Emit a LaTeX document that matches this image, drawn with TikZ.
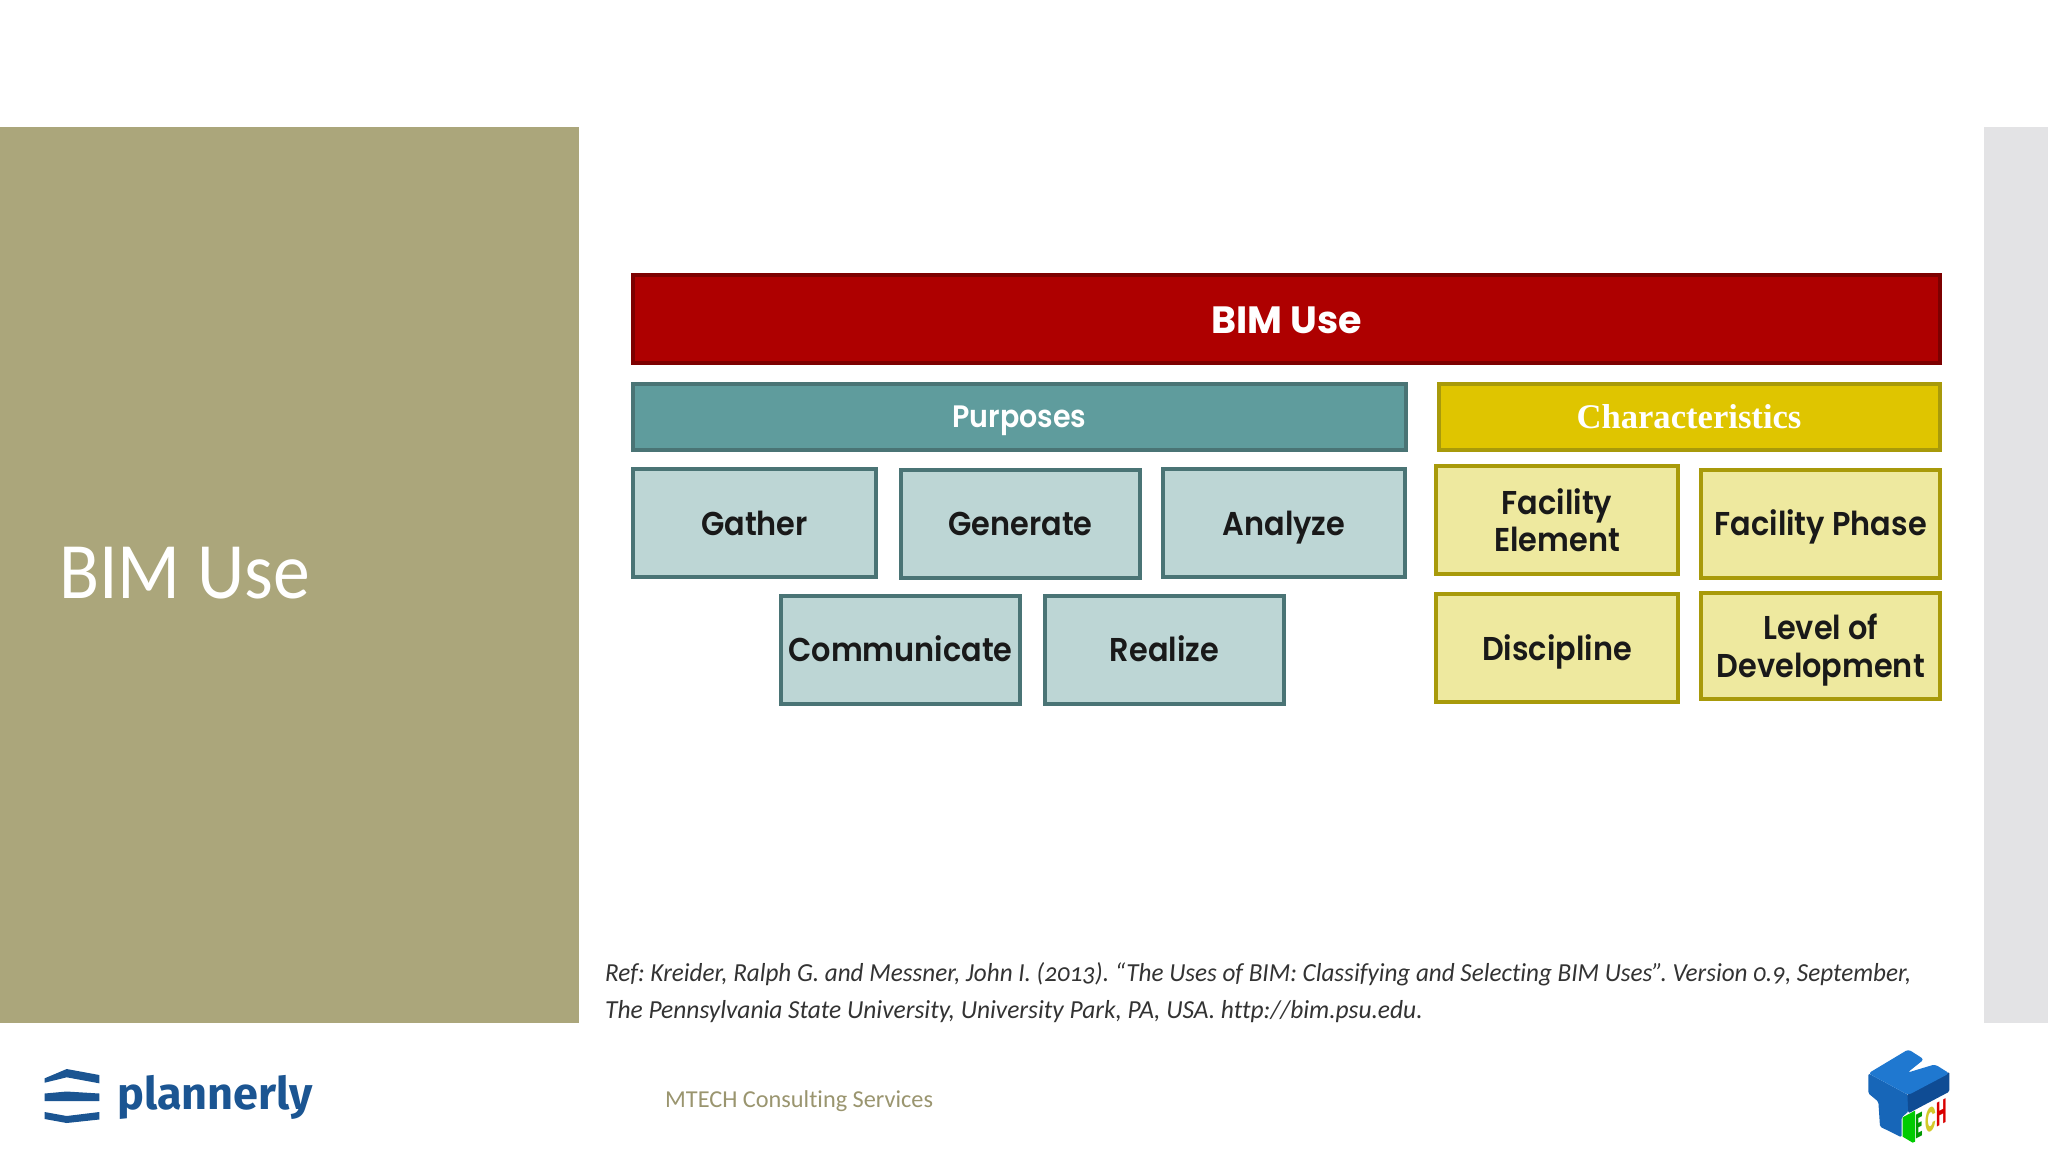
\documentclass[tikz,border=0pt]{standalone}
\usepackage{fontspec}
\setmainfont{Carlito}[Numbers=OldStyle,Ligatures=NoCommon]
\newfontfamily\titlefont{Carlito}[FakeStretch=0.92]
\newfontfamily\reffont{Carlito}[Numbers=OldStyle,Ligatures=NoCommon,FakeStretch=0.966]
\newfontfamily\reffontb{Carlito}[Numbers=OldStyle,Ligatures=NoCommon,FakeStretch=0.978]
\newfontfamily\gothic{Poppins}[UprightFont=*-SemiBold,BoldFont=*-Bold,FakeStretch=0.92]
\newfontfamily\gothicwide{Poppins}[UprightFont=*-SemiBold,BoldFont=*-Bold]
\newfontfamily\timesb{Liberation Serif}
\newfontfamily\logofont{Fira Sans}
\definecolor{olive}{HTML}{ABA67B}
\definecolor{sidegrey}{HTML}{E3E3E5}
\definecolor{redfill}{HTML}{AE0000}
\definecolor{redline}{HTML}{7D0000}
\definecolor{tealfill}{HTML}{5F9C9D}
\definecolor{tealline}{HTML}{4A7475}
\definecolor{tealpale}{HTML}{BDD6D5}
\definecolor{yelfill}{HTML}{DFC500}
\definecolor{yelline}{HTML}{A89A0A}
\definecolor{yelpale}{HTML}{EEE99F}
\definecolor{logoblue}{HTML}{1B5592}
\definecolor{cubetop}{HTML}{1F78D0}
\definecolor{cubeleft}{HTML}{1766B8}
\definecolor{cuberight}{HTML}{0F4C94}
\tikzset{
  box/.style={draw,line width=4pt,inner sep=0pt,align=center,font=\gothic\fontsize{33}{37.5}\selectfont,text=black!90},
  single/.style={text height=32pt,text depth=8pt},
  head/.style={draw,line width=4pt,inner sep=0pt,align=center,text=white,text height=#1,text depth=8pt},
  tealbox/.style={box,single,draw=tealline,fill=tealpale,minimum width=#1,minimum height=108pt},
  yelbox/.style={box,draw=yelline,fill=yelpale,minimum width=#1,minimum height=108pt},
  txt/.style={inner sep=0pt,anchor=base west},
  letter/.style={inner sep=0pt,font=\gothicwide\bfseries\fontsize{34}{34}\selectfont,cm={0.42,0.22,0,1,(0,0)},transform shape}
}
\begin{document}
\begin{tikzpicture}[x=1pt,y=-1pt]
\useasboundingbox (0,0) rectangle (2048,1152);
\fill[white] (0,0) rectangle (2048,1152);
\fill[olive] (0,127) rectangle (579,1022.5);
\fill[sidegrey] (1984,127) rectangle (2048,1022.5);
\node[txt,text=white,font=\titlefont\fontsize{80}{80}\selectfont] (title) at (59,598) {BIM Use};
% diagram
\node[head=36pt,draw=redline,fill=redfill,minimum width=1307pt,minimum height=88pt,font=\gothicwide\bfseries\fontsize{38}{38}\selectfont] (bim) at (1286.5,319) {BIM Use};
\node[head=30pt,draw=tealline,fill=tealfill,minimum width=773pt,minimum height=66pt,font=\gothic\fontsize{31}{31}\selectfont] (purp) at (1019.5,416.7) {Purposes};
\node[head=31pt,draw=yelline,fill=yelfill,minimum width=501pt,minimum height=66pt,font=\timesb\bfseries\fontsize{34.6}{34.6}\selectfont] (char) at (1689,416.7) {Characteristics};
\node[tealbox=243pt] (gather) at (754.5,523) {Gather};
\node[tealbox=239.5pt] (generate) at (1020.5,523.5) {Generate};
\node[tealbox=242pt] (analyze) at (1284,523) {Analyze};
\node[tealbox=239.5pt] (comm) at (900.5,649.5) {Communicate};
\node[tealbox=239pt] (realize) at (1164.5,649.5) {Realize};
\node[yelbox=241.5pt] (felem) at (1557,520) {Facility\\Element};
\node[yelbox=239.5pt,single] (fphase) at (1820.7,523.5) {Facility Phase};
\node[yelbox=241.5pt,single] (disc) at (1557,648) {Discipline};
\node[yelbox=239.5pt,minimum height=106pt,text depth=0pt] (lod) at (1820.7,645.5) {Level of\\Development};
% reference
\node[txt,align=left,font=\reffont\itshape\fontsize{26}{36.5}\selectfont,text=black!80] (ref) at (605,1018) {\frenchspacing Ref: Kreider, Ralph G. and Messner, John I. (2013). “The Uses of BIM: Classifying and Selecting BIM Uses”. Version 0.9, September,\\\reffontb\itshape\frenchspacing The Pennsylvania State University, University Park, PA, USA. http://bim.psu.edu.};
\node[txt,text=olive!90!black,font=\fontsize{24.3}{24.3}\selectfont] (foot) at (665,1107) {MTECH Consulting Services};
% plannerly logo
\fill[logoblue] (44.7,1078.3) -- (66.7,1069) -- (99.3,1075) -- (99.3,1083.3) -- (66.7,1077.3) -- (44.7,1082.7) -- cycle;
\fill[logoblue] (44.7,1093.5) -- (66.7,1091.5) -- (99.3,1093.5) -- (99.3,1101) -- (44.7,1101) -- cycle;
\fill[logoblue] (44.7,1112) -- (66.7,1116) -- (99.3,1112) -- (99.3,1119.5) -- (66.7,1123) -- (44.7,1119) -- cycle;
\node[txt,text=logoblue,font=\logofont\bfseries\fontsize{45}{45}\selectfont] (plan) at (117,1109) {plannerly};
% cube logo
\begin{scope}[shift={(1820,1030)},x=0.3333pt,y=-0.3333pt]
\fill[cubeleft,rounded corners=1.5pt] (145,130) -- (265,195) -- (265,245) -- (245,262) -- (245,322) -- (180,290) -- (175,215) -- (145,190) -- cycle;
\fill[cuberight,rounded corners=1.5pt] (262,190) -- (388,125) -- (388,185) -- (265,250) -- cycle;
\fill[green!80!black] (248,262) -- (285,242) -- (285,335) -- (278,338) -- (248,320) -- cycle;
\fill[cubetop,rounded corners=3pt] (145,130) -- (265,58) -- (312,88) -- (262,128) -- (345,103) -- (388,130) -- (265,195) -- cycle;
\node[letter,text=green!60!black] (lE) at (298,288) {E};
\node[letter,text=yellow!80!black] (lC) at (332,268) {C};
\node[letter,text=red!85!black] (lH) at (364,248) {H};
\end{scope}
\end{tikzpicture}
\end{document}
